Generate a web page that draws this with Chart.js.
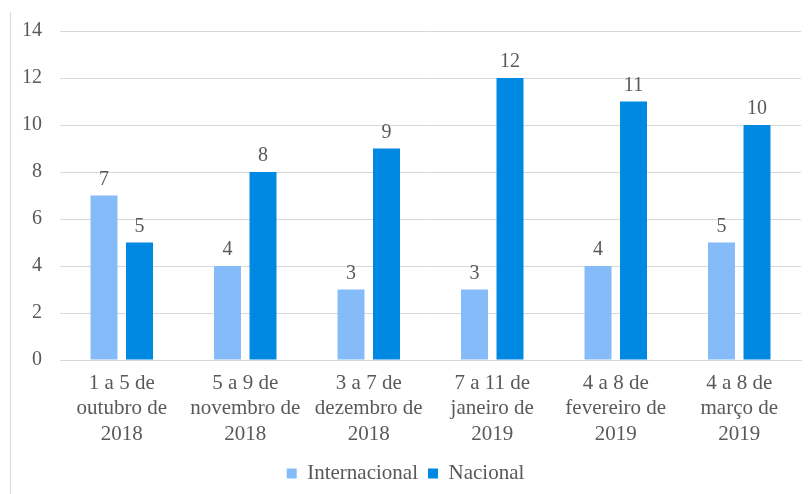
<!DOCTYPE html>
<html>
<head>
<meta charset="utf-8">
<script src="https://cdn.jsdelivr.net/npm/chart.js@4"></script>
<style>
  html, body { margin: 0; padding: 0; background: #fff; }
  #wrap { position: relative; width: 808px; height: 494px; }
  #edge { position: absolute; left: 10px; top: 12px; width: 1px; height: 482px; background: #d9d9d9; }
</style>
</head>
<body>
<div id="wrap">
  <div id="edge"></div>
  <canvas id="grafico" width="808" height="494"></canvas>
</div>
<script>
// dados do gráfico
const categorias = [
  ['1 a 5 de', 'outubro de', '2018'],
  ['5 a 9 de', 'novembro de', '2018'],
  ['3 a 7 de', 'dezembro de', '2018'],
  ['7 a 11 de', 'janeiro de', '2019'],
  ['4 a 8 de', 'fevereiro de', '2019'],
  ['4 a 8 de', 'março de', '2019']
];
const internacional = [7, 4, 3, 3, 4, 5];
const nacional = [5, 8, 9, 12, 11, 10];
const ticksY = [0, 2, 4, 6, 8, 10, 12, 14];

const fonte = "'Liberation Serif', 'Times New Roman', serif";
const cinza = '#595959';

// rótulos de valor em cima das barras
const rotulos = {
  id: 'rotulos',
  afterDatasetsDraw(chart) {
    const ctx = chart.ctx;
    ctx.save();
    ctx.font = '20px ' + fonte;
    ctx.fillStyle = cinza;
    ctx.textAlign = 'center';
    ctx.textBaseline = 'bottom';
    chart.data.datasets.forEach((ds, i) => {
      chart.getDatasetMeta(i).data.forEach((bar, j) => {
        ctx.fillText(ds.data[j], bar.x, bar.y - 6);
      });
    });
    ctx.restore();
  }
};

new Chart(document.getElementById('grafico'), {
  type: 'bar',
  data: {
    labels: categorias,
    datasets: [
      { label: 'Internacional', data: internacional, backgroundColor: '#86bbf9' },
      { label: 'Nacional', data: nacional, backgroundColor: '#0089e2' }
    ]
  },
  options: {
    responsive: false,
    animation: false,
    categoryPercentage: 0.575,
    barPercentage: 0.76,
    layout: { padding: { left: 10, right: 7, top: 31, bottom: 0 } },
    plugins: {
      legend: {
        position: 'bottom',
        labels: {
          font: { family: fonte, size: 21, lineHeight: 1.2 },
          color: cinza,
          boxWidth: 10,
          boxHeight: 10,
          padding: 10
        }
      },
      tooltip: { enabled: false }
    },
    scales: {
      x: {
        afterFit: s => { s.height = 93; },
        grid: { display: false },
        border: { color: '#d9d9d9' },
        ticks: {
          font: { family: fonte, size: 21, lineHeight: 1.2 },
          color: cinza,
          maxRotation: 0,
          autoSkip: false
        }
      },
      y: {
        min: 0,
        max: 14,
        afterBuildTicks: s => { s.ticks = ticksY.map(v => ({ value: v })); },
        afterFit: s => { s.width = 50; },
        grid: { color: '#d9d9d9', drawTicks: false },
        border: { display: false },
        ticks: {
          font: { family: fonte, size: 20 },
          color: cinza,
          padding: 18
        }
      }
    }
  },
  plugins: [rotulos]
});
</script>
</body>
</html>
